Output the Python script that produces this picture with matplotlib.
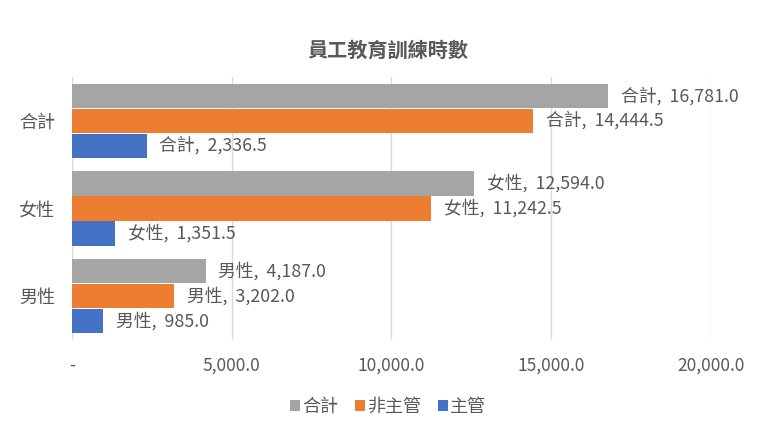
import numpy as np
import matplotlib
matplotlib.use("Agg")
import matplotlib.pyplot as plt
from matplotlib.ticker import FuncFormatter

plt.rcParams['font.family'] = ['Noto Sans CJK TC', 'DejaVu Sans']

categories = ['男性', '女性', '合計']
series_names = ['合計', '非主管', '主管']
total_vals = [4187.0, 12594.0, 16781.0]
staff_vals = [3202.0, 11242.5, 14444.5]
manager_vals = [985.0, 1351.5, 2336.5]
xticks = [0, 5000, 10000, 15000, 20000]

colors = {'合計': '#A5A5A5', '非主管': '#ED7D31', '主管': '#4472C4'}
text_color = '#595959'

fig = plt.figure(figsize=(7.76, 4.36), dpi=100)
ax = fig.add_axes([0.0928, 0.2202, 0.8234, 0.6032])

y = np.arange(len(categories))
h = 0.285
series = [('合計', total_vals, h), ('非主管', staff_vals, 0), ('主管', manager_vals, -h)]
for name, vals, off in series:
    ax.barh(y + off, vals, height=h * 0.98, color=colors[name], label=name, zorder=2)
    for yi, (cat, v) in enumerate(zip(categories, vals)):
        ax.annotate(f'{cat},  {v:,.1f}', xy=(v, yi + off), xytext=(9, 0),
                    textcoords='offset points', va='center', ha='left',
                    fontsize=12.8, color=text_color)

ax.set_xlim(0, 20000)
ax.set_ylim(-0.5, 2.5)
ax.set_xticks(xticks)
ax.xaxis.set_major_formatter(FuncFormatter(lambda v, p: '-' if v == 0 else f'{v:,.1f}'))
ax.set_yticks(y)
ax.set_yticklabels(categories)
ax.tick_params(axis='x', length=0, labelsize=12.5, labelcolor=text_color, pad=12)
ax.tick_params(axis='y', length=0, labelsize=13, labelcolor=text_color, pad=12)
ax.grid(axis='x', color='#D9D9D9', linewidth=1, zorder=0)
for s in ax.spines.values():
    s.set_visible(False)

fig.suptitle('員工教育訓練時數', x=0.5, y=0.91, fontsize=14.5, color=text_color, fontweight='bold')

leg = fig.legend(loc='center', bbox_to_anchor=(0.5, 0.067), ncol=3, frameon=False,
                 fontsize=13, handlelength=0.55, handleheight=0.55, handletextpad=0.15,
                 columnspacing=0.9)
for t in leg.get_texts():
    t.set_color(text_color)

fig.savefig('out.png', dpi=100)
